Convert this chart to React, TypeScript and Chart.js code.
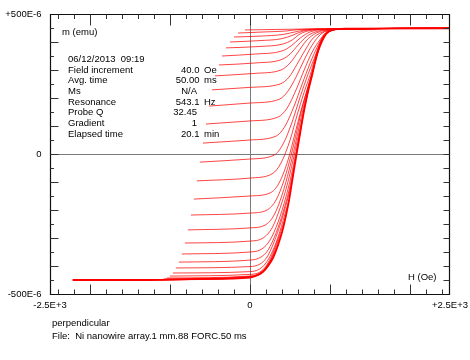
import React, { useEffect, useRef } from "react";
import { Chart, registerables } from "chart.js";

Chart.register(...registerables);

const FONT = '9.5px "Liberation Sans", Arial, sans-serif';

// Axis range and end labels
const xMin = -2500;
const xMax = 2500;
const yMin = -500;
const yMax = 500;
const xLabelValues = [-2500, 0, 2500];
const xLabelTexts = ["-2.5E+3", "0", "+2.5E+3"];
const yLabelValues = [500, 0, -500];
const yLabelTexts = ["+500E-6", "0", "-500E-6"];

// Info block
const infoDate = "06/12/2013  09:19";
const infoNames = ["Field increment", "Avg. time", "Ms", "Resonance", "Probe Q", "Gradient", "Elapsed time"];
const infoValues = ["40.0", "50.00", "N/A", "543.1", "32.45", "1", "20.1"];
const infoUnits = ["Oe", "ms", "", "Hz", "", "", "min"];

// FORC curves: [H (Oe), m (1e-6 emu)]
const forc01 = [[-63, 443], [376, 445], [627, 446], [2500, 449]];
const forc02 = [[-150, 432], [188, 436], [439, 439], [627, 445], [877, 447], [2500, 449]];
const forc03 = [[-200, 418], [125, 421], [414, 427], [564, 436], [689, 443], [940, 446], [2500, 449]];
const forc04 = [[-251, 400], [125, 405], [401, 412], [539, 425], [664, 439], [877, 446], [2500, 449]];
const forc05 = [[-301, 379], [125, 384], [414, 393], [526, 407], [627, 429], [752, 441], [1002, 446], [2500, 449]];
const forc06 = [[-351, 350], [63, 357], [401, 368], [514, 386], [627, 414], [752, 436], [1002, 446], [2500, 449]];
const forc07 = [[-388, 318], [63, 325], [401, 338], [501, 357], [601, 389], [714, 421], [852, 439], [1100, 446], [2500, 449]];
const forc08 = [[-439, 279], [63, 288], [388, 300], [501, 325], [601, 364], [702, 404], [827, 432], [1060, 445], [2500, 449]];
const forc09 = [[-476, 229], [0, 238], [376, 250], [489, 275], [589, 321], [689, 371], [789, 414], [940, 439], [1080, 445], [2500, 449]];
const forc10 = [[-514, 171], [0, 182], [363, 195], [476, 225], [576, 275], [677, 336], [777, 389], [890, 429], [1040, 444], [2500, 449]];
const forc11 = [[-551, 107], [0, 118], [351, 132], [464, 164], [576, 229], [677, 300], [777, 364], [890, 414], [965, 438], [1100, 445], [2500, 449]];
const forc12 = [[-589, 39], [0, 50], [326, 64], [439, 100], [551, 171], [652, 250], [752, 325], [840, 382], [927, 425], [1015, 441], [1190, 447], [2500, 449]];
const forc13 = [[-627, -29], [0, -18], [301, -4], [414, 36], [526, 114], [627, 204], [727, 286], [815, 350], [877, 393], [952, 432], [1103, 445], [2500, 449]];
const forc14 = [[-664, -96], [0, -86], [276, -71], [388, -32], [501, 50], [589, 139], [677, 221], [764, 293], [827, 357], [890, 407], [977, 436], [1190, 447], [2500, 449]];
const forc15 = [[-702, -161], [0, -150], [251, -139], [363, -104], [476, -21], [564, 75], [639, 157], [714, 229], [777, 293], [833, 354], [886, 400], [970, 434], [1190, 447], [2500, 449]];
const forc16 = [[-739, -218], [0, -211], [213, -200], [326, -164], [426, -93], [514, -4], [589, 86], [652, 164], [714, 229], [777, 289], [833, 350], [889, 400], [958, 432], [1190, 447], [2500, 449]];
const forc17 = [[-777, -271], [0, -264], [188, -254], [301, -218], [401, -146], [489, -57], [564, 32], [627, 114], [689, 193], [739, 246], [789, 300], [838, 354], [893, 400], [960, 432], [1190, 447], [2500, 449]];
const forc18 = [[-815, -318], [0, -311], [163, -300], [276, -264], [376, -193], [464, -111], [539, -21], [601, 61], [664, 143], [714, 211], [764, 271], [777, 282]];
const forc19 = [[-852, -357], [0, -350], [150, -339], [251, -307], [351, -243], [439, -164], [514, -79], [576, 7], [627, 79], [675, 154], [727, 225]];
const forc20 = [[-890, -386], [0, -379], [138, -368], [226, -343], [326, -282], [414, -207], [489, -129], [551, -43], [601, 39], [627, 75]];
const forc21 = [[-927, -407], [0, -402], [125, -393], [213, -368], [301, -314], [388, -243], [464, -168], [514, -111], [539, -75]];
const forc22 = [[-965, -425], [0, -420], [113, -412], [200, -389], [288, -343], [363, -286], [426, -225], [489, -164]];
const forc23 = [[-1002, -436], [0, -430], [100, -425], [188, -405], [263, -368], [338, -314], [401, -264], [451, -218]];
const forc24 = [[-1040, -443], [0, -436], [100, -429], [175, -412], [251, -382], [326, -332], [376, -293], [401, -279]];
const forc25 = [[-1078, -446], [0, -437], [100, -430], [175, -414], [238, -389], [288, -364], [351, -325]];
const forc26 = [[-1128, -450], [0, -439], [100, -432], [163, -420], [226, -396], [288, -371]];
const forc27 = [[-1253, -450], [0, -440], [163, -421], [226, -400]];
const forc28 = [[-1529, -450], [0, -440], [100, -432], [163, -421]];
// major ascending branch (lowest reversal field)
const majorBranch = [[-2218, -450], [-1253, -450], [-627, -446], [0, -441], [100, -432], [163, -421], [226, -400], [288, -371], [351, -325], [401, -279], [451, -218], [489, -164], [539, -75], [585, 4], [627, 75], [677, 157], [727, 225], [777, 282], [815, 329], [852, 368], [902, 404], [952, 429], [1028, 443], [1190, 448], [2500, 449]];

const forcCurves = [
  forc01, forc02, forc03, forc04, forc05, forc06, forc07, forc08, forc09, forc10,
  forc11, forc12, forc13, forc14, forc15, forc16, forc17, forc18, forc19, forc20,
  forc21, forc22, forc23, forc24, forc25, forc26, forc27, forc28, majorBranch,
];

const framePlugin = {
  id: "vsmFrame",
  beforeDatasetsDraw(chart: any) {
    const { ctx, chartArea: a, scales } = chart;
    const x0 = Math.round(scales.x.getPixelForValue(0)) + 0.5;
    const y0 = Math.round(scales.y.getPixelForValue(0)) + 0.5;
    ctx.save();
    ctx.strokeStyle = "#7a7a7a";
    ctx.lineWidth = 1;
    ctx.beginPath();
    ctx.moveTo(a.left, y0);
    ctx.lineTo(a.right, y0);
    ctx.moveTo(x0, a.top);
    ctx.lineTo(x0, a.bottom);
    ctx.stroke();
    ctx.restore();
  },
  afterDraw(chart: any) {
    const { ctx, chartArea: a, scales } = chart;
    const L = a.left + 0.5;
    const R = a.right - 0.5;
    const T = a.top + 0.5;
    const B = a.bottom + 0.5;
    ctx.save();
    ctx.strokeStyle = "#111";
    ctx.lineWidth = 1.2;
    ctx.beginPath();
    ctx.moveTo(L, T);
    ctx.lineTo(R, T);
    ctx.lineTo(R, B);
    ctx.lineTo(L, B);
    ctx.closePath();
    ctx.stroke();

    ctx.lineWidth = 1;
    ctx.strokeStyle = "#333";
    // x ticks every 200 Oe, major every 1000
    ctx.beginPath();
    for (let k = -12; k <= 12; k++) {
      const v = k * 200;
      const px = Math.round(scales.x.getPixelForValue(v)) + 0.5;
      const major = v % 1000 === 0;
      ctx.moveTo(px, B);
      ctx.lineTo(px, B - (major ? 10 : 5));
      ctx.moveTo(px, T);
      ctx.lineTo(px, T + (major ? 11 : 4.5));
    }
    // y ticks every 50, major every 100
    for (let k = -9; k <= 9; k++) {
      const v = k * 50;
      const py = Math.round(scales.y.getPixelForValue(v)) + 0.5;
      const major = k % 2 === 0;
      ctx.moveTo(L, py);
      ctx.lineTo(L + (major ? 8 : 3.5), py);
      ctx.moveTo(R, py);
      ctx.lineTo(R - 6, py);
    }
    ctx.stroke();

    ctx.fillStyle = "#000";
    ctx.font = FONT;
    ctx.textBaseline = "middle";
    // y end labels
    ctx.textAlign = "right";
    yLabelValues.forEach((v, i) => {
      ctx.fillText(yLabelTexts[i], 41.5, scales.y.getPixelForValue(v));
    });
    // x end labels
    ctx.textAlign = "center";
    xLabelValues.forEach((v, i) => {
      ctx.fillText(xLabelTexts[i], scales.x.getPixelForValue(v), 305);
    });

    // axis titles
    ctx.textAlign = "left";
    ctx.fillText("m (emu)", 62, 32.5);
    ctx.fillText("H (Oe)", 408, 277);

    // info block
    ctx.fillText(infoDate, 68, 59.5);
    infoNames.forEach((n, i) => {
      const y = 70.2 + i * 10.65;
      ctx.textAlign = "left";
      ctx.fillText(n, 68, y);
      ctx.textAlign = "right";
      ctx.fillText(infoValues[i], infoUnits[i] ? 199.5 : 197, y);
      if (infoUnits[i]) {
        ctx.textAlign = "left";
        ctx.fillText(infoUnits[i], 204, y);
      }
    });

    // footer
    ctx.textAlign = "left";
    ctx.fillText("perpendicular", 52, 323.5);
    ctx.fillText("File:  Ni nanowire array.1 mm.88 FORC.50 ms", 52, 336.5);
    ctx.restore();
  },
};

export default function App() {
  const ref = useRef<HTMLCanvasElement>(null);
  useEffect(() => {
    const canvas = ref.current;
    if (!canvas) return;
    const chart = new Chart(canvas, {
      type: "line",
      data: {
        datasets: forcCurves.map((c, i) => ({
          data: c.map(([x, y]) => ({ x, y })),
          borderColor: i === forcCurves.length - 1 ? "#ff0000" : "rgba(255,0,0,0.82)",
          borderWidth: i === forcCurves.length - 1 ? 1.8 : 0.9,
          pointRadius: 0,
          cubicInterpolationMode: "monotone" as const,
          fill: false,
        })),
      },
      options: {
        responsive: false,
        animation: false,
        events: [],
        layout: { padding: { left: 50, top: 14, right: 20, bottom: 66 } },
        scales: {
          x: { type: "linear", min: xMin, max: xMax, display: false },
          y: { type: "linear", min: yMin, max: yMax, display: false },
        },
        plugins: { legend: { display: false }, tooltip: { enabled: false } },
      },
      plugins: [framePlugin],
    });
    return () => chart.destroy();
  }, []);
  return (
    <div style={{ position: "fixed", left: 0, top: 0, width: 470, height: 360, background: "#fff" }}>
      <canvas ref={ref} width={470} height={360} style={{ display: "block" }} />
    </div>
  );
}
